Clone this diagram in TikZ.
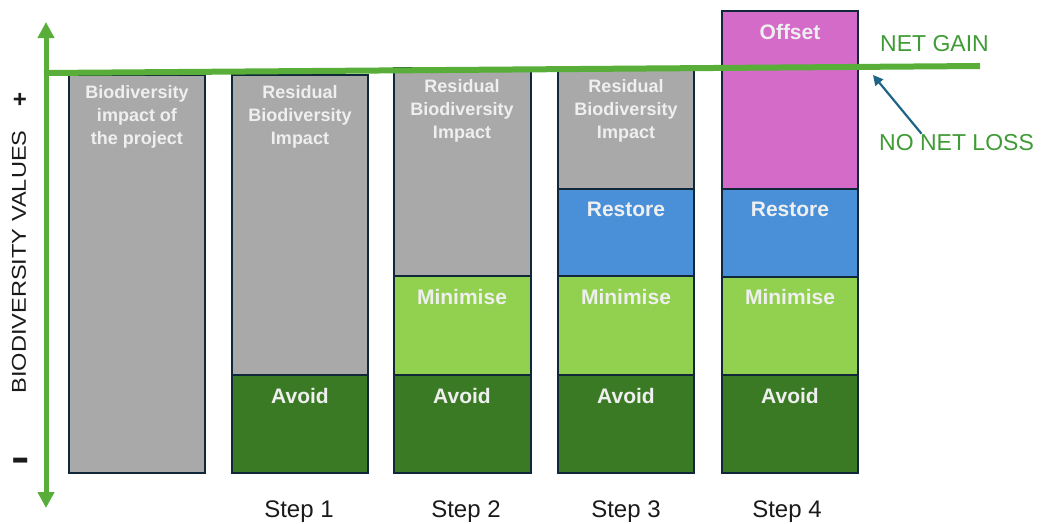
\documentclass[tikz,border=0pt]{standalone}
\usepackage{fontspec}
\setmainfont{Liberation Sans}
\usetikzlibrary{arrows.meta}
\definecolor{barGray}{HTML}{A9A9A9}
\definecolor{avoidGreen}{HTML}{3B7A25}
\definecolor{minGreen}{HTML}{92D050}
\definecolor{restoreBlue}{HTML}{4A90D9}
\definecolor{offsetPink}{HTML}{D56BC8}
\definecolor{edgeNavy}{HTML}{10283A}
\definecolor{lineGreen}{HTML}{58AE38}
\definecolor{textGreen}{HTML}{3F9B35}
\definecolor{arrowBlue}{HTML}{1F6487}
\definecolor{lblWhite}{HTML}{EFEFEF}
\definecolor{stepText}{HTML}{1A1A1A}
\begin{document}
\begin{tikzpicture}[x=1pt,y=-1pt,
  seg/.style={draw=edgeNavy, line width=2.5pt},
  seglbl/.style={text=lblWhite, font=\bfseries\fontsize{21}{24}\selectfont, inner sep=0pt},
  toplbl/.style={text=lblWhite, font=\bfseries\fontsize{18}{23}\selectfont, align=center, inner sep=0pt},
  steplbl/.style={text=stepText, font=\fontsize{24}{28}\selectfont, anchor=base, inner sep=0pt},
  gaintext/.style={text=textGreen, font=\fontsize{23}{26}\selectfont, anchor=base west, inner sep=0pt}
]
\useasboundingbox (0,0) rectangle (1041,523);

% Bar 0
\draw[seg, fill=barGray] (69,75) rectangle (205,473);
\node[toplbl] (b0top) at (137,117) {Biodiversity\\impact of\\the project};

% Bar 1
\draw[seg, fill=barGray] (232,75) rectangle (368,375);
\draw[seg, fill=avoidGreen] (232,375) rectangle (368,473);
\node[toplbl] (b1top) at (300,117) {Residual\\Biodiversity\\Impact};
\node[seglbl] (b1avoid) at (300,396) {Avoid};

% Bar 2
\draw[seg, fill=barGray] (394,68) rectangle (531,276);
\draw[seg, fill=minGreen] (394,276) rectangle (531,375);
\draw[seg, fill=avoidGreen] (394,375) rectangle (531,473);
\node[toplbl] (b2top) at (462,111) {Residual\\Biodiversity\\Impact};
\node[seglbl] (b2min) at (462,297) {Minimise};
\node[seglbl] (b2avoid) at (462,396) {Avoid};

% Bar 3
\draw[seg, fill=barGray] (558,70) rectangle (694,189);
\draw[seg, fill=restoreBlue] (558,189) rectangle (694,276);
\draw[seg, fill=minGreen] (558,276) rectangle (694,375);
\draw[seg, fill=avoidGreen] (558,375) rectangle (694,473);
\node[toplbl] (b3top) at (626,111) {Residual\\Biodiversity\\Impact};
\node[seglbl] (b3res) at (626,209) {Restore};
\node[seglbl] (b3min) at (626,297) {Minimise};
\node[seglbl] (b3avoid) at (626,396) {Avoid};

% Bar 4
\draw[seg, fill=offsetPink] (722,11) rectangle (858,189);
\draw[seg, fill=restoreBlue] (722,189) rectangle (858,277);
\draw[seg, fill=minGreen] (722,277) rectangle (858,375);
\draw[seg, fill=avoidGreen] (722,375) rectangle (858,473);
\node[seglbl] (b4off) at (790,32) {Offset};
\node[seglbl] (b4res) at (790,209) {Restore};
\node[seglbl] (b4min) at (790,297) {Minimise};
\node[seglbl] (b4avoid) at (790,396) {Avoid};

% Step labels
\node[steplbl] (s1) at (299,517) {Step 1};
\node[steplbl] (s2) at (466,517) {Step 2};
\node[steplbl] (s3) at (626,517) {Step 3};
\node[steplbl] (s4) at (787,517) {Step 4};

% Net gain line
\coordinate (lineL) at (44,73);
\coordinate (lineR) at (980,66);
\draw[lineGreen, line width=6pt] (lineL) -- (lineR);

% Axis
\coordinate (axTop) at (46,22);
\coordinate (axBot) at (46,508);
\draw[lineGreen, line width=5pt, {Triangle[width=16pt,length=16pt]}-{Triangle[width=16pt,length=16pt]}] (axTop) -- (axBot);

% Axis text
\node[rotate=90, text=stepText, font=\fontsize{20}{24}\selectfont, inner sep=0pt] (axlbl) at (19,262) {\scalebox{1.18}[1]{BIODIVERSITY VALUES}};
\node[text=stepText, font=\bfseries\fontsize{24}{24}\selectfont, inner sep=0pt] (plus) at (20,100) {+};
\node[text=stepText, font=\bfseries\fontsize{28}{28}\selectfont, inner sep=0pt] (minus) at (21,467) {\scalebox{1}[1.6]{−}};

% Right labels
\node[gaintext] (gain) at (880,51) {NET GAIN};
\node[gaintext] (nnl) at (879,150) {NO NET LOSS};
\coordinate (nnlTip) at (873,75);
\draw[arrowBlue, line width=2.2pt, -{Triangle[width=10pt,length=10pt]}] ([xshift=-35pt]nnl.north) -- (nnlTip);
\end{tikzpicture}
\end{document}
